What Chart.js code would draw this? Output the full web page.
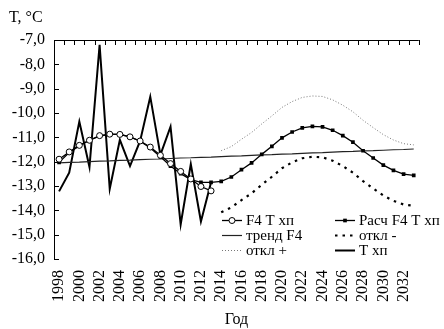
<!DOCTYPE html>
<html>
<head>
<meta charset="utf-8">
<script src="https://cdn.jsdelivr.net/npm/chart.js@4.4.0/dist/chart.umd.min.js"></script>
<style>
  html, body { margin: 0; padding: 0; background: #fff; }
  canvas { display: block; }
</style>
</head>
<body>
<canvas id="myChart" width="444" height="329"></canvas>
<script>
const years = ['1998', '1999', '2000', '2001', '2002', '2003', '2004', '2005', '2006', '2007',
  '2008', '2009', '2010', '2011', '2012', '2013', '2014', '2015', '2016', '2017',
  '2018', '2019', '2020', '2021', '2022', '2023', '2024', '2025', '2026', '2027',
  '2028', '2029', '2030', '2031', '2032', '2033'];

// 1998-2013
const tActual = [-13.22, -12.45, -10.35, -12.22, -7.2, -13.12, -11.1, -12.18, -11.15, -9.33,
  -11.72, -10.56, -14.58, -12.1, -14.46, -12.85];
const f4Fact = [-11.9, -11.6, -11.33, -11.12, -10.93, -10.87, -10.88, -10.98, -11.15, -11.4,
  -11.74, -12.08, -12.4, -12.71, -13.02, -13.2];

// 1998-2033
const f4Calc = [-12.03, -11.62, -11.35, -11.12, -10.95, -10.88, -10.88, -10.98, -11.16, -11.44,
  -11.8, -12.18, -12.49, -12.74, -12.85, -12.85, -12.81, -12.63, -12.33, -12.05,
  -11.7, -11.37, -11.02, -10.78, -10.61, -10.55, -10.57, -10.71, -10.93, -11.2,
  -11.55, -11.85, -12.14, -12.36, -12.51, -12.56];
const trendF4 = [-12.05, -12.03, -12.02, -12.0, -11.98, -11.97, -11.95, -11.94, -11.92, -11.9,
  -11.89, -11.87, -11.85, -11.84, -11.82, -11.81, -11.79, -11.77, -11.76, -11.74,
  -11.72, -11.71, -11.69, -11.68, -11.66, -11.64, -11.63, -11.61, -11.59, -11.58,
  -11.56, -11.55, -11.53, -11.51, -11.5, -11.48];

// 2014-2033
const devMinus = [-14.08, -13.88, -13.58, -13.3, -12.95, -12.62, -12.27, -12.03, -11.86, -11.8,
  -11.82, -11.96, -12.18, -12.45, -12.8, -13.1, -13.39, -13.61, -13.76, -13.81];
const devPlus = [-11.55, -11.38, -11.08, -10.8, -10.45, -10.12, -9.77, -9.53, -9.36, -9.3,
  -9.32, -9.46, -9.68, -9.95, -10.3, -10.6, -10.89, -11.11, -11.26, -11.31];

const yTicks = [-7, -8, -9, -10, -11, -12, -13, -14, -15, -16];

const forecastStart = years.indexOf('2014');
const padForecast = arr => Array(forecastStart).fill(null).concat(arr);

const serif = "'Liberation Serif', 'Times New Roman', serif";

const legendSlots = [[222, 220], [335, 220], [222, 235], [335, 235], [222, 250], [335, 250]];

const framePlugin = {
  id: 'frame',
  afterDraw(chart) {
    const { ctx, chartArea: a, scales: { x, y } } = chart;
    ctx.save();
    ctx.strokeStyle = '#000';
    ctx.lineWidth = 1;
    ctx.beginPath();
    ctx.moveTo(a.left + 0.5, a.bottom + 0.5);
    ctx.lineTo(a.left + 0.5, a.top + 0.5);
    ctx.lineTo(a.right, a.top + 0.5);
    // top ticks between categories
    for (let i = 1; i <= years.length; i++) {
      const px = Math.round((x.getPixelForValue(i - 1) + x.getPixelForValue(i)) / 2) + 0.5;
      ctx.moveTo(px, a.top);
      ctx.lineTo(px, a.top + 5);
    }
    // left ticks, pointing inwards
    yTicks.forEach(v => {
      const py = Math.round(y.getPixelForValue(v)) + 0.5;
      ctx.moveTo(a.left, py);
      ctx.lineTo(a.left + 5, py);
    });
    ctx.stroke();

    ctx.fillStyle = '#000';
    ctx.font = '16px ' + serif;
    ctx.textBaseline = 'middle';
    ctx.textAlign = 'left';
    ctx.fillText('T, °C', 9, 18);
    ctx.textAlign = 'center';
    ctx.fillText('Год', (a.left + a.right) / 2, 320);

    // legend
    ctx.font = '15px ' + serif;
    ctx.textAlign = 'left';
    chart.data.datasets.forEach((ds, i) => {
      const [lx, ly] = legendSlots[i];
      ctx.strokeStyle = ds.borderColor;
      ctx.lineWidth = ds.borderWidth;
      ctx.setLineDash(ds.borderDash || []);
      ctx.beginPath();
      ctx.moveTo(lx, ly + 0.5);
      ctx.lineTo(lx + 20, ly + 0.5);
      ctx.stroke();
      ctx.setLineDash([]);
      if (ds.pointRadius > 0) {
        ctx.fillStyle = ds.pointBackgroundColor;
        ctx.strokeStyle = ds.pointBorderColor;
        ctx.lineWidth = ds.pointBorderWidth;
        Chart.helpers.drawPoint(ctx, {
          pointStyle: ds.pointStyle, radius: ds.pointRadius, rotation: 0,
          borderWidth: ds.pointBorderWidth
        }, lx + 10, ly + 0.5);
      }
      ctx.fillStyle = '#000';
      ctx.fillText(ds.label, lx + 24, ly + 1);
    });
    ctx.restore();
  }
};

new Chart(document.getElementById('myChart'), {
  type: 'line',
  data: {
    labels: years,
    datasets: [
      {
        label: 'F4 T xп',
        data: f4Fact,
        borderColor: '#000',
        borderWidth: 1.3,
        pointStyle: 'circle',
        pointRadius: 3,
        pointBackgroundColor: '#fff',
        pointBorderColor: '#000',
        pointBorderWidth: 1
      },
      {
        label: 'Расч F4 T xп',
        data: f4Calc,
        borderColor: '#000',
        borderWidth: 1.3,
        pointStyle: 'rect',
        pointRadius: 2.6,
        pointBackgroundColor: '#000',
        pointBorderColor: '#000',
        pointBorderWidth: 0
      },
      {
        label: 'тренд F4',
        data: trendF4,
        borderColor: '#222',
        borderWidth: 1.2,
        pointRadius: 0
      },
      {
        label: 'откл -',
        data: padForecast(devMinus),
        borderColor: '#000',
        borderWidth: 2.2,
        borderDash: [2.5, 5],
        pointRadius: 0
      },
      {
        label: 'откл +',
        data: padForecast(devPlus),
        borderColor: '#777',
        borderWidth: 1,
        borderDash: [1, 2],
        pointRadius: 0
      },
      {
        label: 'T xп',
        data: tActual,
        borderColor: '#000',
        borderWidth: 2,
        pointRadius: 0
      }
    ]
  },
  options: {
    responsive: false,
    animation: false,
    layout: { padding: { top: 40, right: 5, left: 0, bottom: 0 } },
    elements: { line: { tension: 0 } },
    plugins: {
      legend: { display: false },
      tooltip: { enabled: false }
    },
    scales: {
      x: {
        offset: true,
        grid: { display: false, drawTicks: false },
        border: { display: false },
        ticks: {
          autoSkip: false,
          minRotation: 90,
          maxRotation: 90,
          padding: 11,
          color: '#000',
          font: { family: serif, size: 16 },
          callback: function (v, i) { return i % 2 === 0 ? this.getLabelForValue(v) : ''; }
        },
        afterFit: s => { s.height = 70; }
      },
      y: {
        min: -16,
        max: -7,
        grid: { display: false, drawTicks: false },
        border: { display: false },
        ticks: {
          stepSize: 1,
          padding: 9,
          color: '#000',
          font: { family: serif, size: 16 },
          callback: v => v.toFixed(1).replace('.', ',')
        },
        afterFit: s => { s.height; s.width = 54; }
      }
    }
  },
  plugins: [framePlugin]
});
</script>
</body>
</html>
